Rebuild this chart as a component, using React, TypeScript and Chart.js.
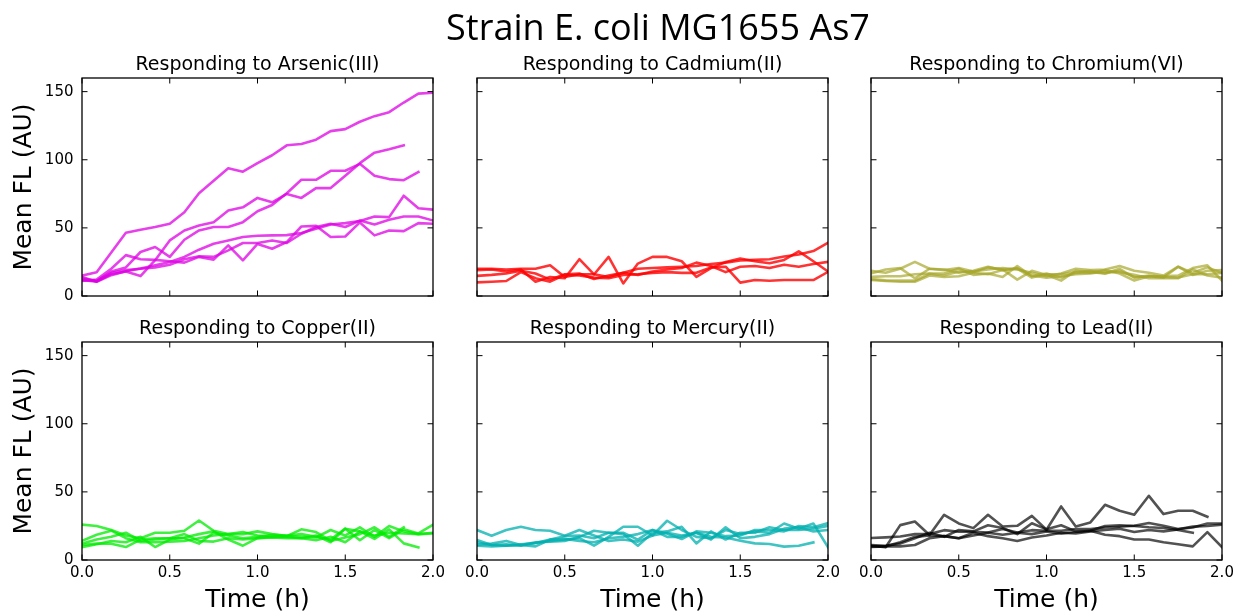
import { useEffect, useRef } from "react";
import { Chart, registerables } from "chart.js";

Chart.register(...registerables);

// Sampling times (minutes) shared by every trace; plotted in hours.
const TIME_MIN = [0, 5, 10, 15, 20, 25, 30, 35, 40, 45, 50, 55, 60, 65, 70, 75, 80, 85, 90, 95, 100, 105, 110, 115, 120];

const X_TICKS = [0, 0.5, 1, 1.5, 2];
const Y_TICKS = [0, 50, 100, 150];

// Mean fluorescence (AU) per replicate, one row per trace.
const ARSENIC = [
  [15, 17.5, 32, 46.4, 48.6, 50.6, 53, 61.5, 75.4, 84.6, 93.8, 91.2, 97.5, 103.3, 110.6, 111.6, 114.7, 121, 122.5, 127.9, 132, 134.9, 142, 148.5, 149.2],
  [14, 10.5, 16, 18, 14.6, 26.3, 40.8, 48.1, 51.8, 54.2, 62.7, 65.1, 72, 68.8, 74.9, 72, 79.2, 79.2, 88.2, 97.5, 105.2, 107.7, 110.6],
  [12, 11, 18, 21, 32.3, 36, 28.7, 41.3, 48.1, 50.6, 50.6, 54.2, 62.2, 66.8, 75.4, 85.3, 85.3, 91.9, 91.9, 97, 88.2, 85.8, 85, 91],
  [11, 12, 20, 30, 27, 26.5, 25.5, 24.5, 28.7, 26.7, 37.2, 26.2, 38.2, 34.7, 39.6, 51, 51.5, 43.3, 43.7, 54, 44.5, 48.1, 47.6, 53.5, 53],
  [11.7, 10.5, 15.3, 18.2, 20.2, 22.6, 25, 28.7, 34, 38.4, 40.8, 43.3, 44.2, 44.5, 44.7, 46.2, 49.3, 52.5, 53.5, 55, 58.3, 57.9, 73.6, 64.4, 63.4],
  [13, 11, 17, 19, 20, 21, 23, 27, 29.2, 28.7, 33.5, 38.9, 38.9, 40.8, 38.9, 45.7, 50.6, 53, 50.6, 55.4, 52.5, 55.9, 58.3, 58.3, 55.4],
];

const CADMIUM = [
  [20, 20, 19.5, 20, 20, 22.5, 14, 16, 16, 14, 17, 20, 20.5, 21, 21.5, 22, 23.5, 24.5, 26, 26.5, 27, 29, 30.5, 33, 39],
  [19, 19.5, 18, 19.5, 10.5, 14, 13, 27, 15.8, 28.7, 9.2, 23.8, 28.7, 28.7, 25.5, 14.1, 20.5, 25, 27.5, 25.5, 24, 26.5, 32.8, 25.5, 18],
  [10, 10.5, 11, 17.5, 13, 10.5, 15.5, 15, 13.5, 13, 15.5, 16, 17, 17.5, 17, 17, 21, 21.5, 9.8, 11.7, 11.2, 11.7, 11.7, 11.7, 17.7],
  [14.8, 15.5, 16.5, 18.5, 16.5, 12, 16, 16.5, 12.5, 15, 17, 15.5, 18, 19.5, 20.5, 24.5, 22, 17.5, 21.5, 22, 20.5, 23, 21.5, 23.5, 25],
];

const CHROMIUM = [
  [18.5, 17, 20, 25, 20, 19.5, 17, 18.5, 21.5, 19, 20, 13.5, 16, 16, 17.5, 18.5, 16.5, 20, 13.5, 15, 14, 13.5, 16, 16, 17],
  [16.5, 19.5, 20.5, 13, 20, 19, 20.5, 18, 19.5, 20.5, 19.5, 17, 14.5, 16.5, 20, 19, 19.5, 22, 18.5, 17, 15, 21.5, 17, 21, 17],
  [12.4, 11.5, 11.3, 11.3, 16.3, 15, 18, 17.5, 21, 19.5, 12, 18.5, 15.5, 11.3, 18.5, 17, 19, 16.5, 11.3, 14.5, 14.5, 15, 20.5, 22.5, 11.3],
  [11.7, 11, 10.5, 10.5, 15, 14, 14.5, 17, 16, 19, 20.5, 15, 13.5, 14.5, 16, 16.5, 18, 17.5, 15.5, 13, 13, 13, 19.5, 15, 13.5],
  [14, 14.5, 14.5, 16, 16.5, 16.5, 20, 15.5, 16.5, 14, 22, 14.5, 16.5, 13.5, 17, 17.5, 16.5, 18.5, 14, 14.5, 13.5, 21.5, 15.5, 18.5, 19],
];

const COPPER = [
  [26, 25, 22, 18, 16, 20, 20, 21.5, 29, 21.5, 19, 19, 21, 19, 17.5, 17, 16.5, 22, 18, 24, 17, 25, 21, 19, 19.5],
  [12, 15, 17, 20, 14, 15, 16, 16, 12, 20, 18, 16, 17, 18.5, 18, 19, 17, 15, 23, 21, 15.5, 22.5, 12.2, 9.3],
  [14, 18.5, 21.5, 16, 13, 13, 13.5, 14, 16, 18, 19, 20.5, 18, 17, 17.5, 22.5, 20.5, 14, 16.5, 19, 24, 17, 24],
  [11, 12, 12, 9.5, 15, 16, 16, 19, 14, 13.5, 16, 15, 16, 17, 17, 16, 18, 13, 23, 14.5, 22, 16, 22.5, 19.5, 25.9],
  [9.5, 11.5, 14, 13, 17, 9.5, 15, 16.5, 19, 21, 15, 10.5, 16, 16.5, 16, 16, 14.5, 17, 13, 21, 18, 20, 19.5, 19, 20],
];

const MERCURY = [
  [22, 17.8, 22, 24.4, 22, 21.5, 17.8, 22, 18, 14, 15, 13.5, 18, 20, 18, 20, 17, 16.5, 14.1, 12.2, 11.7, 9.8, 10.5, 12.9],
  [14.6, 11, 11.5, 10.5, 12.5, 14, 15, 16, 10.5, 17, 24.4, 24.4, 18, 28.8, 22, 17, 16, 22, 19, 21, 20, 26.8, 23, 26.8, 9.3],
  [12.9, 11, 10.5, 11, 10, 15, 17.5, 18, 16, 20, 19, 10.5, 20, 21, 24.4, 12.2, 21, 15, 20, 20, 24, 22, 22, 23, 25],
  [11.2, 12, 14, 11, 13, 13.5, 14, 17, 21.5, 20, 20, 15, 22, 19.5, 15.4, 21, 20, 17.5, 18, 22, 22, 21, 25, 24, 27],
  [10.5, 10, 10.5, 11.5, 12.5, 15, 15.5, 14, 13, 16, 17, 19, 22, 17, 17, 20, 15, 24, 16, 17, 19, 23, 24, 21, 22],
];

const LEAD = [
  [10.5, 9.3, 25.6, 28.3, 18.3, 33.2, 26.8, 23.4, 33.2, 24.6, 25.1, 32.4, 22.2, 39.3, 24.6, 27.6, 40.5, 36.1, 33.2, 47.1, 33.7, 36.1, 36.1, 31.7],
  [16.1, 16.6, 17.3, 19, 19, 21.9, 20.7, 20.7, 20.2, 22.7, 20.2, 21.9, 21.5, 21.5, 22.7, 22.7, 23.9, 24.4, 25.1, 27.1, 25.1, 22.7, 23.9, 26.8, 26.8],
  [10, 10, 13, 17, 18, 17.5, 16, 18, 20, 18.5, 20, 19, 21, 19.5, 20.5, 21.5, 18.5, 17.5, 15, 15, 13, 11.5, 10, 20.5, 9.5],
  [11, 10.5, 12, 16, 20, 17, 22, 21, 25.5, 23.5, 19, 27, 22.5, 25.5, 21, 21.5, 25, 25.5, 25, 24, 23.5, 22, 20],
  [9.5, 10, 10, 11, 16, 17.5, 16, 20, 17.5, 16, 14, 16.5, 18, 20, 19.5, 21, 22, 23, 20.5, 22, 21, 22.5, 24.5, 25, 26],
];

const SUPTITLE = "Strain E. coli MG1655 As7";

const PANELS = [
  { title: "Responding to Arsenic(III)", series: ARSENIC, color: "rgba(222, 0, 228, 0.75)", row: 0, col: 0 },
  { title: "Responding to Cadmium(II)", series: CADMIUM, color: "rgba(255, 0, 0, 0.8)", row: 0, col: 1 },
  { title: "Responding to Chromium(VI)", series: CHROMIUM, color: "rgba(165, 165, 40, 0.68)", row: 0, col: 2 },
  { title: "Responding to Copper(II)", series: COPPER, color: "rgba(0, 235, 0, 0.75)", row: 1, col: 0 },
  { title: "Responding to Mercury(II)", series: MERCURY, color: "rgba(0, 175, 175, 0.75)", row: 1, col: 1 },
  { title: "Responding to Lead(II)", series: LEAD, color: "rgba(0, 0, 0, 0.68)", row: 1, col: 2 },
];

// Figure geometry (px)
const FIG_W = 1241;
const FIG_H = 613;
const COL_LEFT = [82, 477, 871];
const ROW_TOP = [78, 342];
const PLOT_W = 351;
const PLOT_H = 218;
const TICK_LEN = 5.5;
const FONT = '"DejaVu Sans", sans-serif';

// Boxed axes with inward ticks on all four sides, plus panel / figure titles.
const boxedAxes = {
  id: "boxedAxes",
  afterDatasetsDraw(chart: any, _args: any, opts: any) {
    const { ctx, chartArea: a, scales } = chart;
    const x = scales.x;
    const y = scales.y;
    ctx.save();
    ctx.strokeStyle = "#000";
    ctx.lineWidth = 1;
    ctx.beginPath();
    for (const t of x.ticks) {
      const px = x.getPixelForValue(t.value);
      ctx.moveTo(px, a.bottom);
      ctx.lineTo(px, a.bottom - TICK_LEN);
      ctx.moveTo(px, a.top);
      ctx.lineTo(px, a.top + TICK_LEN);
    }
    for (const t of y.ticks) {
      const py = y.getPixelForValue(t.value);
      ctx.moveTo(a.left, py);
      ctx.lineTo(a.left + TICK_LEN, py);
      ctx.moveTo(a.right, py);
      ctx.lineTo(a.right - TICK_LEN, py);
    }
    ctx.stroke();
    ctx.lineWidth = 1.3;
    ctx.strokeRect(a.left, a.top, a.right - a.left, a.bottom - a.top);

    ctx.fillStyle = "#000";
    ctx.textAlign = "center";
    ctx.textBaseline = "alphabetic";
    ctx.font = `19px ${FONT}`;
    ctx.fillText(opts.title, (a.left + a.right) / 2, a.top - 8);
    if (opts.suptitle) {
      ctx.font = '36px "Open Sans", sans-serif';
      ctx.fillText(opts.suptitle, 658, 40);
    }
    ctx.restore();
  },
};

type PanelDef = (typeof PANELS)[number];

function Panel({ p, suptitle }: { p: PanelDef; suptitle?: string }) {
  const ref = useRef<HTMLCanvasElement>(null);

  useEffect(() => {
    const left = COL_LEFT[p.col];
    const top = ROW_TOP[p.row];
    const right = left + PLOT_W;
    const bottom = top + PLOT_H;
    const showY = p.col === 0;
    const showX = p.row === 1;
    const yW = showY ? left : 0;
    const xH = showX ? FIG_H - bottom : 0;

    const chart = new Chart(ref.current as HTMLCanvasElement, {
      type: "line",
      data: {
        datasets: p.series.map((vals) => ({
          data: vals.map((v, i) => ({ x: TIME_MIN[i] / 60, y: v })),
          borderColor: p.color,
          borderWidth: 2.6,
          borderJoinStyle: "round" as const,
          borderCapStyle: "square" as const,
          pointRadius: 0,
          tension: 0,
          fill: false,
          clip: 0,
        })),
      },
      options: {
        responsive: false,
        animation: false,
        devicePixelRatio: 1,
        events: [],
        layout: {
          padding: { left: left - yW, top, right: FIG_W - right, bottom: FIG_H - bottom - xH },
        },
        plugins: {
          legend: { display: false },
          tooltip: { enabled: false },
          title: { display: false },
          boxedAxes: { title: p.title, suptitle },
        } as any,
        scales: {
          x: {
            type: "linear",
            min: 0,
            max: 2,
            grid: { display: false, drawTicks: false },
            border: { display: false },
            afterBuildTicks: (s: any) => {
              s.ticks = X_TICKS.map((value) => ({ value }));
            },
            afterFit: (s: any) => {
              s.height = xH;
            },
            ticks: {
              display: showX,
              padding: 4,
              maxRotation: 0,
              autoSkip: false,
              color: "#000",
              font: { family: FONT, size: 15 },
              callback: (v: any) => Number(v).toFixed(1),
            },
            title: {
              display: showX,
              text: "Time (h)",
              color: "#000",
              font: { family: FONT, size: 25 },
              padding: { top: 0, bottom: -2 },
            },
          },
          y: {
            type: "linear",
            min: 0,
            max: 160,
            grid: { display: false, drawTicks: false },
            border: { display: false },
            afterBuildTicks: (s: any) => {
              s.ticks = Y_TICKS.map((value) => ({ value }));
            },
            afterFit: (s: any) => {
              s.width = yW;
            },
            ticks: {
              display: showY,
              padding: 8.5,
              color: "#000",
              font: { family: FONT, size: 15 },
              callback: (v: any) => String(v),
            },
            title: {
              display: showY,
              text: "Mean FL (AU)",
              color: "#000",
              font: { family: FONT, size: 25 },
              padding: { top: 9, bottom: 0 },
            },
          },
        },
      },
      plugins: [boxedAxes],
    });
    return () => chart.destroy();
  }, [p, suptitle]);

  return (
    <canvas
      ref={ref}
      width={FIG_W}
      height={FIG_H}
      style={{ position: "absolute", left: 0, top: 0, width: FIG_W, height: FIG_H }}
    />
  );
}

export default function App() {
  return (
    <div
      style={{
        position: "absolute",
        left: 0,
        top: 0,
        width: FIG_W,
        height: FIG_H,
        background: "#fff",
        overflow: "hidden",
      }}
    >
      {PANELS.map((p, i) => (
        <Panel key={p.title} p={p} suptitle={i === 0 ? SUPTITLE : undefined} />
      ))}
    </div>
  );
}
